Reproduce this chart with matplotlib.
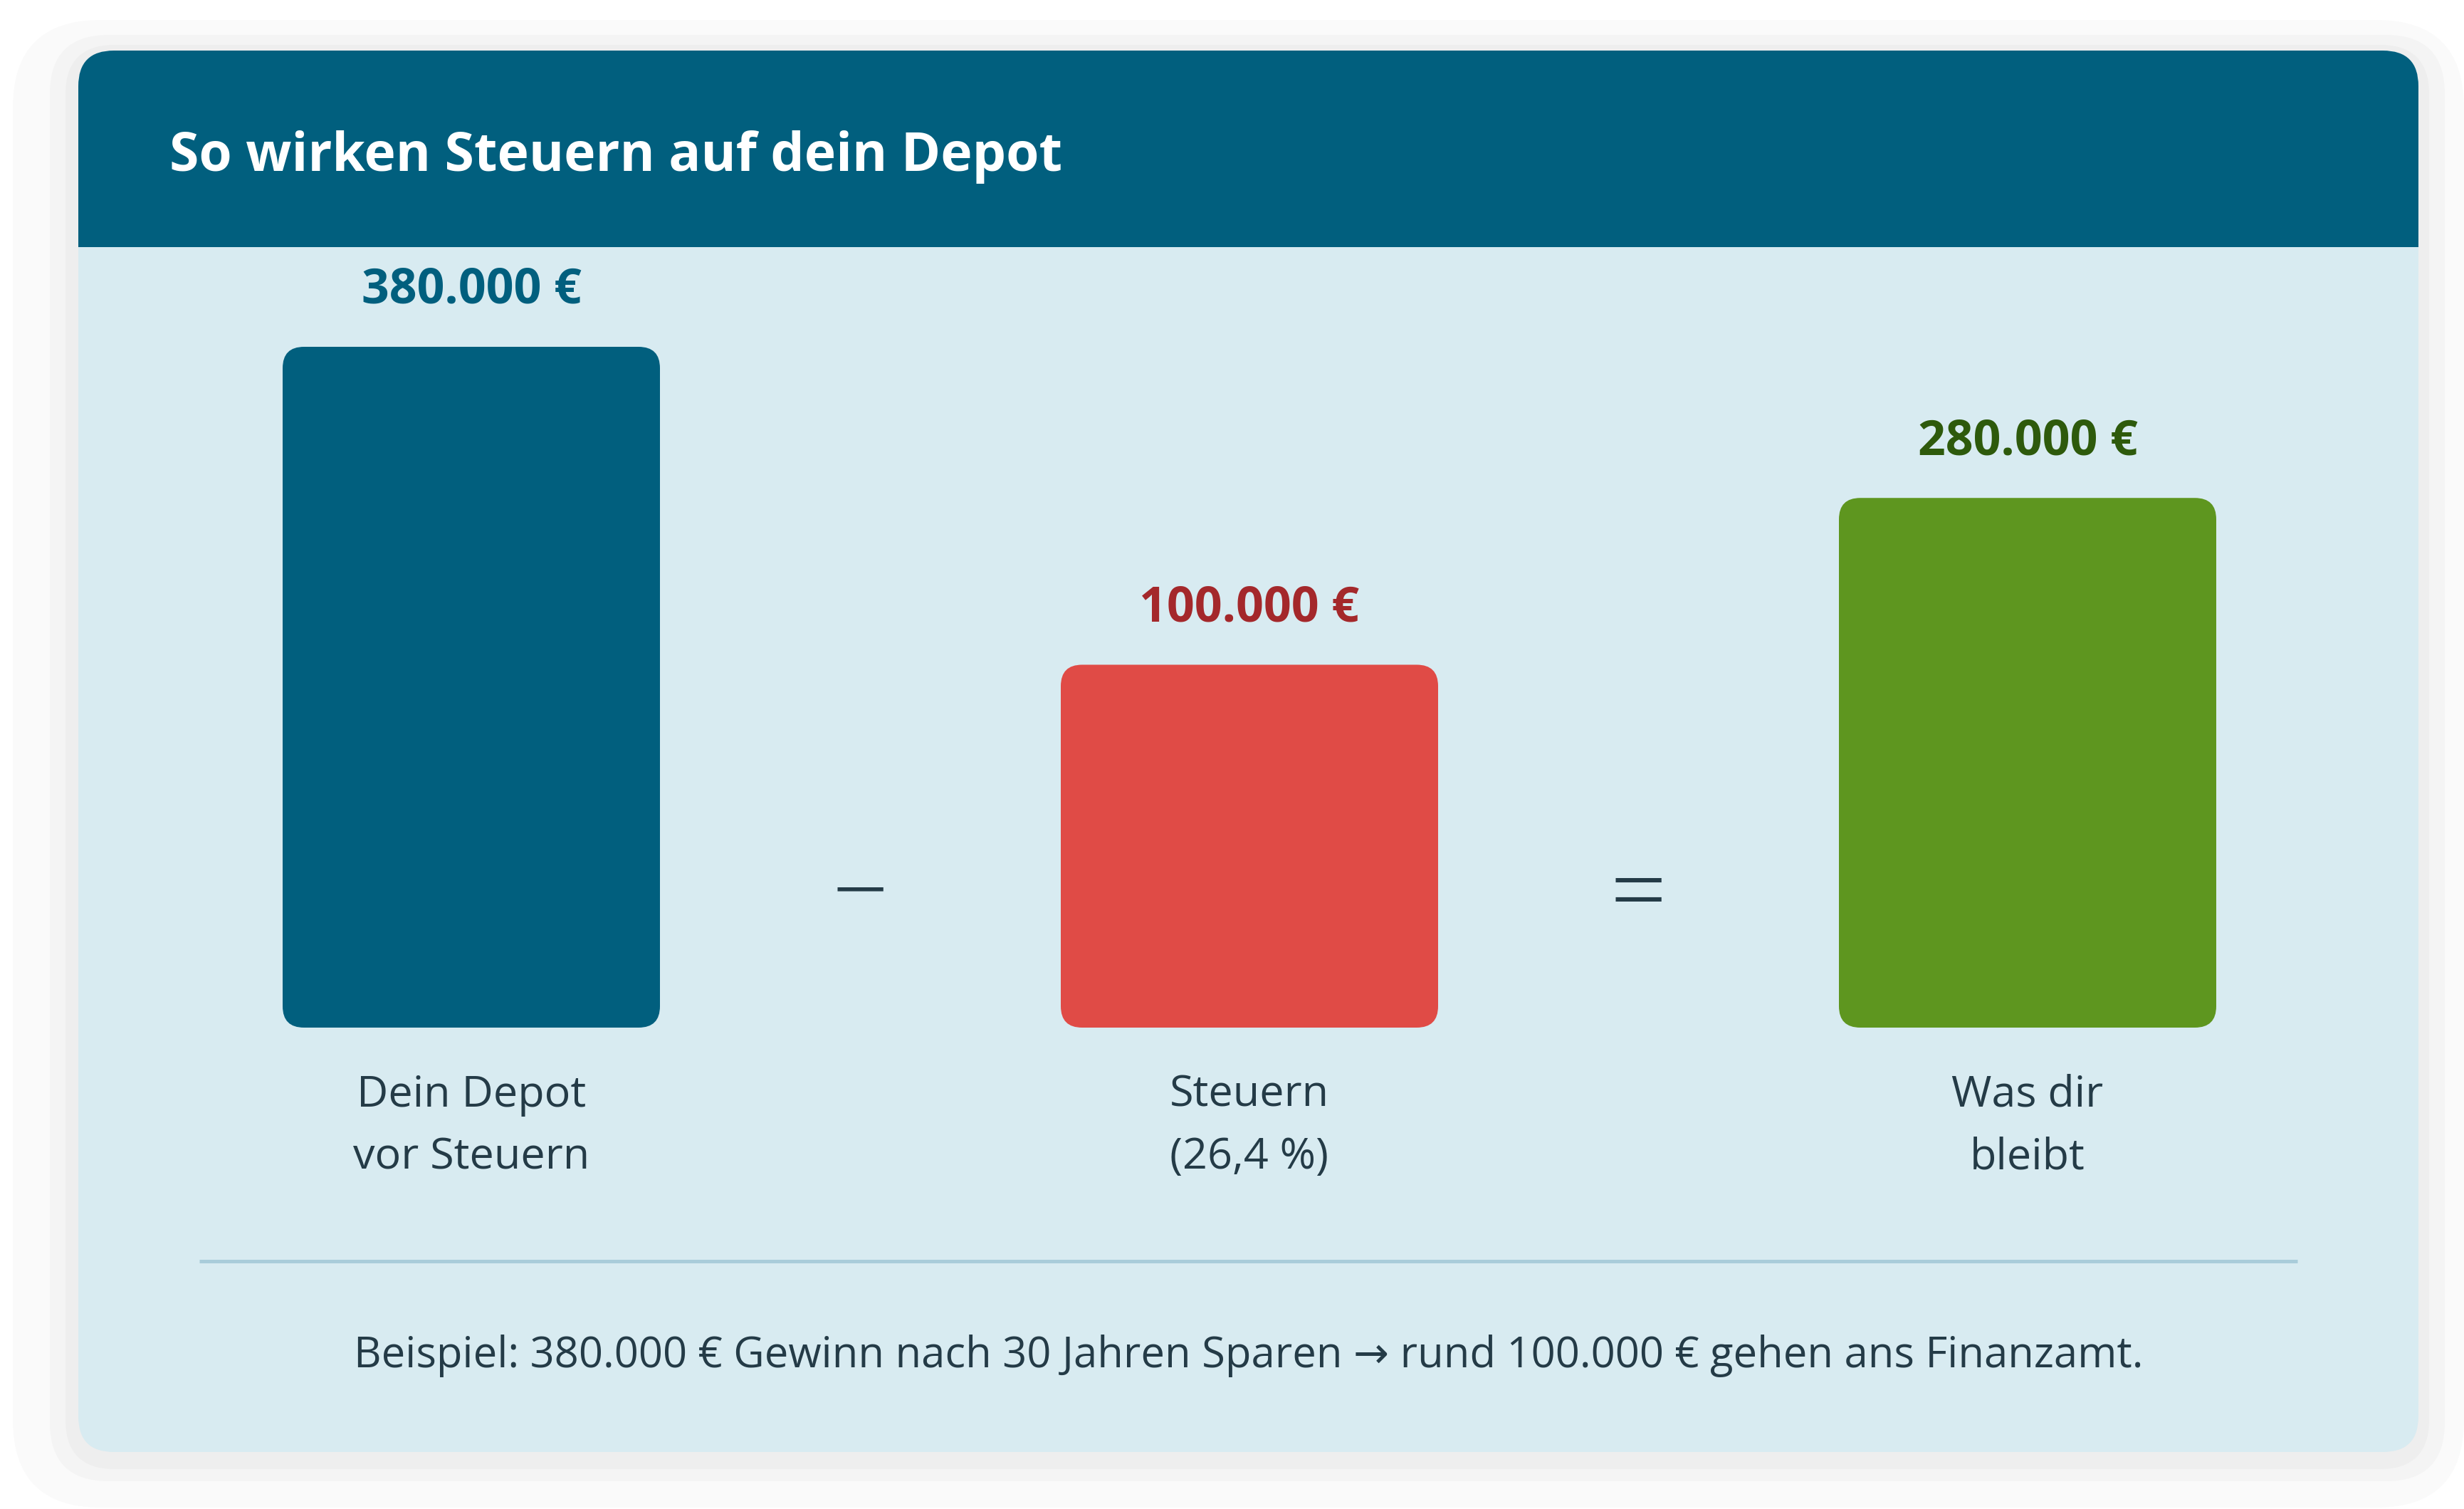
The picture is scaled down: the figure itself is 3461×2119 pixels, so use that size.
import matplotlib
matplotlib.use("Agg")
import matplotlib.pyplot as plt
from matplotlib.patches import FancyBboxPatch, Rectangle

plt.rcParams['font.family'] = ['Open Sans', 'DejaVu Sans']

# --- data -------------------------------------------------------------
title = "So wirken Steuern auf dein Depot"
categories = ["Dein Depot\nvor Steuern", "Steuern\n(26,4 %)", "Was dir\nbleibt"]
amounts = [380000, 100000, 280000]
bar_heights = [100, 53.3, 77.8]  # shown height, % of the tallest bar
operators = ["\u2212", "="]
footnote = "Beispiel: 380.000 € Gewinn nach 30 Jahren Sparen → rund 100.000 € gehen ans Finanzamt."

bar_colors = ['#015F7E', '#E04B46', '#5E961F']
value_colors = ['#015F7E', '#A4282B', '#2E5A0C']
header_color = '#015F7E'
body_color = '#D8EBF1'
text_color = '#243B47'

W, H = 3461, 2119
fig = plt.figure(figsize=(W / 100, H / 100), dpi=100)
fig.patch.set_facecolor('white')

bg = fig.add_axes([0, 0, 1, 1])
bg.set_xlim(0, W)
bg.set_ylim(H, 0)
bg.axis('off')


def rbox(ax, x0, y0, x1, y1, r, color, z):
    p = FancyBboxPatch((x0 + r, y0 + r), x1 - x0 - 2 * r, y1 - y0 - 2 * r,
                       boxstyle=f"round,pad={r},rounding_size={r}",
                       fc=color, ec='none', zorder=z)
    ax.add_patch(p)


# card with soft shadow
cx0, cy0, cx1, cy1 = 110, 71, 3397, 2039
for (l, t, r, b), c in [((92, 43, 64, 78), '#FAFAFA'),
                        ((40, 22, 37, 41), '#F4F4F4'),
                        ((18, 8, 15, 24), '#EEEEEE')]:
    rbox(bg, cx0 - l, cy0 - t, cx1 + r, cy1 + b, 50 + max(l, b) * 0.8, c, 0)
rbox(bg, cx0, cy0, cx1, cy1, 50, body_color, 1)
rbox(bg, cx0, cy0, cx1, 347 + 70, 50, header_color, 2)
bg.add_patch(Rectangle((cx0, 347), cx1 - cx0, 80, fc=body_color, ec='none', zorder=2))

bg.text(238, 240, title, color='white', fontsize=54, fontweight='bold',
        va='baseline', ha='left', zorder=3)

bg.plot([280, 3227], [1771, 1771], color='#A9CCDA', lw=3.6, zorder=3,
        solid_capstyle='butt')
bg.text((cx0 + cx1) / 2, 1920, footnote, ha='center', va='baseline',
        fontsize=43, color=text_color, zorder=3)

# --- bars -------------------------------------------------------------
bax = fig.add_axes([115.5 / W, 676 / H, 3279 / W, 956 / H])
bax.set_xlim(-0.5, 2.5)
bax.set_ylim(0, 100)
bax.axis('off')
bax.patch.set_alpha(0)

xs = list(range(len(categories)))
bars = bax.bar(xs, bar_heights, width=530 / 1093, color=bar_colors)
inv = bg.transData.inverted()
for b, c in zip(bars, bar_colors):
    p0 = inv.transform(bax.transData.transform((b.get_x(), 0)))
    p1 = inv.transform(bax.transData.transform((b.get_x() + b.get_width(), b.get_height())))
    rbox(bg, p0[0], p1[1], p1[0], p0[1], 30, c, 3)
    b.set_visible(False)

for i, (v, h) in enumerate(zip(amounts, bar_heights)):
    label = f"{v:,}".replace(",", ".") + " €"
    bax.annotate(label, xy=(i, h), xytext=(0, 61), textcoords='offset pixels',
                 ha='center', va='baseline', fontsize=49, fontweight='bold',
                 color=value_colors[i], annotation_clip=False)
    for j, line in enumerate(categories[i].split("\n")):
        bax.annotate(line, xy=(i, 0), xytext=(0, -(111 + 87 * j)),
                     textcoords='offset pixels', ha='center', va='baseline',
                     fontsize=44, color=text_color, annotation_clip=False)

for k, op in enumerate(operators):
    bax.annotate(op, xy=(k + 0.5, 0), xytext=(0, 198), textcoords='offset pixels',
                 ha='center', va='center_baseline', fontsize=100, fontweight='light',
                 color=text_color, annotation_clip=False)

fig.savefig("out.png", dpi=100, facecolor='white')
